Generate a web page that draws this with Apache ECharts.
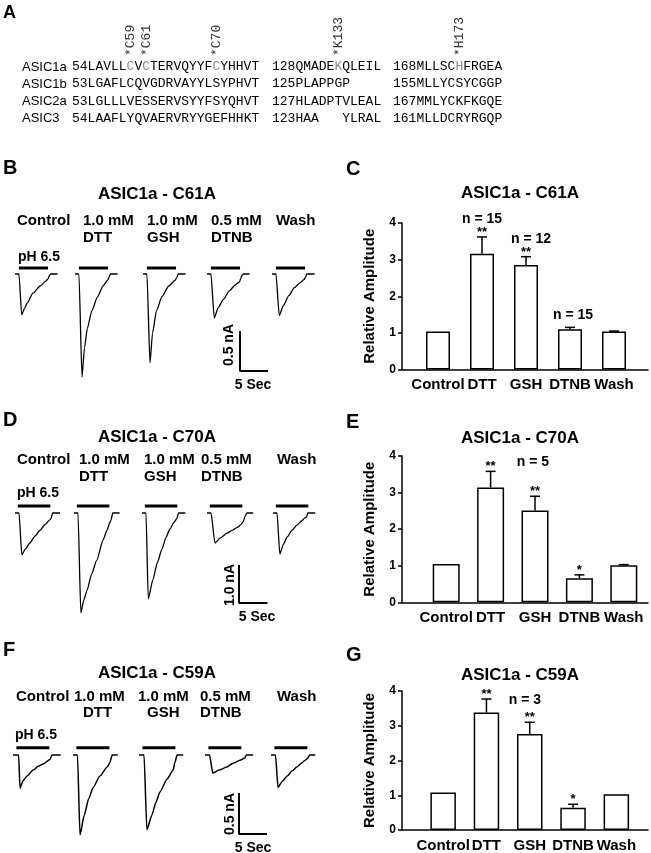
<!DOCTYPE html>
<html>
<head>
<meta charset="utf-8">
<script src="https://cdn.jsdelivr.net/npm/echarts@6/dist/echarts.min.js"></script>
<style>
html, body { margin: 0; padding: 0; background: #fff; }
#main { width: 651px; height: 853px; }
</style>
</head>
<body>
<div id="main"></div>
<script>
// ---- data ----
var conditions = ['Control', 'DTT', 'GSH', 'DTNB', 'Wash'];

// relative amplitude (mean, SEM, significance)
var ampC61A = [1.04, 3.16, 2.85, 1.10, 1.04];
var semC61A = [0, 0.46, 0.23, 0.05, 0.01];
var sigC61A = ['', '**', '**', '', ''];

var ampC70A = [1.05, 3.14, 2.51, 0.66, 1.01];
var semC70A = [0, 0.44, 0.39, 0.09, 0.02];
var sigC70A = ['', '**', '**', '*', ''];

var ampC59A = [1.08, 3.38, 2.76, 0.64, 1.03];
var semC59A = [0, 0.39, 0.34, 0.10, 0];
var sigC59A = ['', '**', '**', '*', ''];

// current traces, [time s, current nA], one per condition
var tracesC61A = [
  [[0,0],[0.7,0],[1.2,-0.51],[1.7,-0.43],[2.2,-0.36],[3.2,-0.24],[4.5,-0.15],[5.5,-0.09],[5.9,-0.06],[6.2,-0.01],[6.4,0],[7.6,0]],
  [[0,0],[0.7,0],[1.25,-1.29],[1.7,-0.92],[2.2,-0.68],[3.0,-0.46],[4.0,-0.29],[5.0,-0.15],[5.8,-0.08],[6.1,-0.04],[6.3,0],[7.6,0]],
  [[0,0],[0.7,0],[1.25,-1.11],[1.7,-0.74],[2.4,-0.46],[3.4,-0.28],[4.6,-0.15],[5.7,-0.08],[6.0,-0.05],[6.3,0],[7.6,0]],
  [[0,0],[0.7,0],[1.3,-0.55],[2.0,-0.42],[2.9,-0.32],[4.0,-0.21],[5.0,-0.14],[5.8,-0.10],[6.0,-0.06],[6.3,-0.01],[6.5,0],[7.6,0]],
  [[0,0],[0.7,0],[1.3,-0.52],[2.0,-0.40],[3.0,-0.27],[4.0,-0.17],[5.0,-0.11],[5.7,-0.07],[6.0,-0.04],[6.2,0],[7.6,0]]
];
var tracesC70A = [
  [[0,0],[0.7,0],[1.2,-1.10],[1.8,-0.95],[2.6,-0.79],[3.5,-0.61],[4.4,-0.45],[5.3,-0.30],[6.1,-0.18],[6.3,-0.15],[6.6,0],[7.9,0]],
  [[0,0],[0.7,0],[1.2,-2.63],[1.7,-2.30],[2.3,-2.03],[3.1,-1.60],[4.0,-1.24],[5.1,-0.71],[5.8,-0.45],[6.3,-0.25],[6.5,-0.18],[6.8,0],[8.0,0]],
  [[0,0],[0.7,0],[1.1,-2.26],[1.9,-1.76],[2.7,-1.30],[3.5,-0.95],[4.2,-0.65],[4.9,-0.42],[5.6,-0.25],[6.1,-0.15],[6.4,0],[7.6,0]],
  [[0,0],[0.7,0],[1.4,-0.79],[2.4,-0.65],[3.5,-0.53],[4.5,-0.45],[5.4,-0.37],[6.0,-0.30],[6.3,-0.24],[6.7,-0.08],[7.0,0],[8.1,0]],
  [[0,0],[0.7,0],[1.2,-1.08],[1.8,-0.83],[2.5,-0.63],[3.3,-0.46],[4.2,-0.32],[5.0,-0.21],[5.6,-0.13],[5.9,-0.10],[6.1,0],[7.4,0]]
];
var tracesC59A = [
  [[0,0],[1.0,0],[1.25,-0.44],[1.8,-0.34],[2.5,-0.28],[3.6,-0.20],[4.5,-0.15],[5.4,-0.12],[6.6,-0.06],[6.9,-0.01],[7.0,0],[8.5,0]],
  [[0,0],[0.8,0],[1.25,-1.06],[2.0,-0.80],[2.8,-0.58],[3.6,-0.43],[4.8,-0.28],[6.1,-0.16],[6.6,-0.10],[6.9,-0.02],[7.0,0],[8.0,0]],
  [[0,0],[0.9,0],[1.4,-0.99],[2.3,-0.80],[3.0,-0.63],[3.75,-0.49],[5.0,-0.32],[6.1,-0.20],[6.4,-0.10],[6.8,0],[7.9,0]],
  [[0,0],[0.8,0],[1.4,-0.24],[2.5,-0.20],[3.9,-0.16],[5.0,-0.11],[6.25,-0.07],[7.1,-0.04],[7.4,0],[8.6,0]],
  [[0,0],[0.8,0],[1.25,-0.43],[2.0,-0.35],[2.9,-0.28],[3.8,-0.21],[4.6,-0.16],[5.4,-0.11],[6.1,-0.07],[6.6,-0.04],[6.9,0],[7.9,0]]
];
// pH 6.5 application (s)
var stimC61A = [0.7, 5.9];
var stimC70A = [0.5, 6.2];
var stimC59A = [0.6, 6.5];
// scale bars
var scaleNA = [0.5, 1.0, 0.5];
var scaleSec = 5;

// sequence alignment
var seqNames = ['ASIC1a', 'ASIC1b', 'ASIC2a', 'ASIC3'];
var seqCol1 = ['54LAVLLCVCTERVQYYFCYHHVT', '53LGAFLCQVGDRVAYYLSYPHVT', '53LGLLLVESSERVSYYFSYQHVT', '54LAAFLYQVAERVRYYGEFHHKT'];
var seqCol2 = ['128QMADEKQLEIL', '125PLAPPGP', '127HLADPTVLEAL', '123HAA   YLRAL'];
var seqCol3 = ['168MLLSCHFRGEA', '155MLLYCSYCGGP', '167MMLYCKFKGQE', '161MLLDCRYRGQP'];
var markLabels = ['C59', 'C61', 'C70', 'K133', 'H173'];
var markCol = [0, 0, 0, 1, 2];
var markIdx = [7, 9, 18, 8, 8];

// ---- layout ----
var FONT = '"Liberation Sans", Arial, Helvetica, sans-serif';
var MONO = '"Liberation Mono", "Courier New", monospace';

var chart = echarts.init(document.getElementById('main'), null, {renderer: 'canvas', width: 651, height: 853});
var grids = [], xAxes = [], yAxes = [], series = [], graphics = [];

function addGrid(g, xa, ya) {
  var gi = grids.length;
  grids.push(g);
  xa.gridIndex = gi; ya.gridIndex = gi;
  xAxes.push(xa); yAxes.push(ya);
  return gi;
}

function txt(x, y, s, size, opt) {
  opt = opt || {};
  var al = opt.align || 'left', va = opt.valign || 'middle';
  return {
    type: 'text', x: x, y: y, rotation: opt.rot || 0, z: 100, silent: true,
    style: {
      text: s, font: (opt.weight || 'bold') + ' ' + size + 'px ' + (opt.family || FONT),
      fill: opt.color || '#000', textAlign: al, textVerticalAlign: va, align: al, verticalAlign: va
    }
  };
}

// panel A
graphics.push(txt(3, 13, 'A', 18));
var colStart = [72, 272, 393];
var cw = 7.8, rowY = [67, 84, 101.5, 118.5];
var cols = [seqCol1, seqCol2, seqCol3];
seqNames.forEach(function (nm, r) {
  graphics.push(txt(22, rowY[r], nm, 13, {weight: 'normal'}));
  cols.forEach(function (col, c) {
    var s = col[r];
    var marks = [];
    if (r === 0) markCol.forEach(function (mc, m) { if (mc === c) marks.push(markIdx[m]); });
    var pos = 0;
    marks.concat([s.length]).forEach(function (mi) {
      if (mi > pos) graphics.push(txt(colStart[c] + pos * cw, rowY[r], s.slice(pos, mi), 13, {weight: 'normal', family: MONO, color: '#000'}));
      if (mi < s.length) graphics.push(txt(colStart[c] + mi * cw, rowY[r], s[mi], 13, {weight: 'normal', family: MONO, color: '#8a8a8a'}));
      pos = mi + 1;
    });
  });
});
markLabels.forEach(function (lab, m) {
  var x = colStart[markCol[m]] + (markIdx[m] + 0.5) * cw;
  graphics.push(txt(x, 56, '*' + lab, 13, {weight: 'normal', family: MONO, color: '#333', rot: Math.PI / 2}));
});

// trace panels
var tracePanels = [
  {traces: tracesC61A, stim: stimC61A, sNA: scaleNA[0], letter: 'B', letterY: 168, title: 'ASIC1a - C61A', titleY: 194,
   starts: [15, 75, 143, 207, 272], base: 274, pxNA: 80, pxS: 5.6, yMin: -1.5, yMax: 0.3, stimGap: 6, corner: [240, 371], lw: 1.3,
   row1: 221, row2: 238, head: [['Control', 17], ['1.0 mM', 83], ['1.0 mM', 147], ['0.5 mM', 211], ['Wash', 276]],
   head2: [['DTT', 83], ['GSH', 147], ['DTNB', 211]], ph: [18, 257], nALab: [229, 345], secLab: [253, 385]},
  {traces: tracesC70A, stim: stimC70A, sNA: scaleNA[1], letter: 'D', letterY: 420, title: 'ASIC1a - C70A', titleY: 437,
   starts: [15, 74, 142, 207, 273], base: 513, pxNA: 38, pxS: 5.7, yMin: -3, yMax: 0.5, stimGap: 7, corner: [239, 603], lw: 1.3,
   row1: 460, row2: 477, head: [['Control', 17], ['1.0 mM', 79], ['1.0 mM', 144], ['0.5 mM', 201], ['Wash', 277]],
   head2: [['DTT', 79], ['GSH', 144], ['DTNB', 201]], ph: [17, 493], nALab: [230, 585], secLab: [257, 617]},
  {traces: tracesC59A, stim: stimC59A, sNA: scaleNA[2], letter: 'F', letterY: 650, title: 'ASIC1a - C59A', titleY: 673,
   starts: [13, 73, 139, 205, 271], base: 757, pxNA: 82, pxS: 5.6, yMin: -1.3, yMax: 0.3, stimGap: 8, corner: [239, 834], lw: 1.5,
   row1: 697, row2: 713, head: [['Control', 16], ['1.0 mM', 74], ['1.0 mM', 138], ['0.5 mM', 200], ['Wash', 277]],
   head2: [['DTT', 83], ['GSH', 147], ['DTNB', 200]], ph: [15, 735], nALab: [230, 814], secLab: [253, 848]}
];

tracePanels.forEach(function (p) {
  var tMax = 9;
  graphics.push(txt(3, p.letterY, p.letter, 20));
  graphics.push(txt(157, p.titleY, p.title, 17, {align: 'center'}));
  p.head.forEach(function (h) { graphics.push(txt(h[1], p.row1, h[0], 15)); });
  p.head2.forEach(function (h) { graphics.push(txt(h[1], p.row2, h[0], 15)); });
  graphics.push(txt(p.ph[0], p.ph[1], 'pH 6.5', 14));
  graphics.push(txt(p.nALab[0], p.nALab[1], p.sNA.toFixed(1) + ' nA', 14, {align: 'center', rot: Math.PI / 2}));
  graphics.push(txt(p.secLab[0], p.secLab[1], scaleSec + ' Sec', 14, {align: 'center'}));

  p.traces.forEach(function (tr, k) {
    var gi = addGrid(
      {left: p.starts[k], top: p.base - p.yMax * p.pxNA, width: tMax * p.pxS, height: (p.yMax - p.yMin) * p.pxNA},
      {type: 'value', min: 0, max: tMax, show: false},
      {type: 'value', min: p.yMin, max: p.yMax, show: false});
    series.push({type: 'line', xAxisIndex: gi, yAxisIndex: gi, data: tr, symbol: 'none', smooth: 0.2, smoothMonotone: 'x',
      lineStyle: {color: '#000', width: p.lw}, clip: false, silent: true});
    var lvl = p.stimGap / p.pxNA;
    series.push({type: 'line', xAxisIndex: gi, yAxisIndex: gi, data: [[p.stim[0], lvl], [p.stim[1], lvl]], symbol: 'none',
      lineStyle: {color: '#000', width: 3}, clip: false, silent: true});
  });
  var gs = addGrid(
    {left: p.corner[0], top: p.corner[1] - 1.2 * p.pxNA, width: 6 * p.pxS, height: 1.2 * p.pxNA},
    {type: 'value', min: 0, max: 6, show: false},
    {type: 'value', min: 0, max: 1.2, show: false});
  series.push({type: 'line', xAxisIndex: gs, yAxisIndex: gs, data: [[0, p.sNA], [0, 0], [scaleSec, 0]], symbol: 'none',
    lineStyle: {color: '#000', width: 2}, clip: false, silent: true});
});

// bar panels
var barPanels = [
  {amp: ampC61A, sem: semC61A, sig: sigC61A, letter: 'C', letterY: 169, title: 'ASIC1a - C61A', titleY: 193,
   top: 223, height: 146.5, barLeft: 416, band: 44, barW: 24,
   nLab: [['n = 15', 482, 219], ['n = 12', 531, 239], ['n = 15', 573, 315]]},
  {amp: ampC70A, sem: semC70A, sig: sigC70A, letter: 'E', letterY: 422, title: 'ASIC1a - C70A', titleY: 438,
   top: 456, height: 146.3, barLeft: 424, band: 44.4, barW: 27,
   nLab: [['n = 5', 533, 462]]},
  {amp: ampC59A, sem: semC59A, sig: sigC59A, letter: 'G', letterY: 655, title: 'ASIC1a - C59A', titleY: 675,
   top: 691, height: 139, barLeft: 421.5, band: 43.3, barW: 25.5,
   nLab: [['n = 3', 525, 700]]}
];

var axisLine = {show: true, onZero: false, lineStyle: {color: '#000', width: 1.5}};
barPanels.forEach(function (p) {
  graphics.push(txt(346, p.letterY, p.letter, 20));
  graphics.push(txt(520, p.titleY, p.title, 17, {align: 'center'}));
  p.nLab.forEach(function (n) { graphics.push(txt(n[1], n[2], n[0], 14, {align: 'center'})); });

  addGrid({left: 402, top: p.top, width: 246, height: p.height},
    {type: 'value', min: 0, max: 1, axisLine: axisLine, axisTick: {show: false}, axisLabel: {show: false}, splitLine: {show: false}},
    {type: 'value', min: 0, max: 4, interval: 1, axisLine: axisLine,
     axisTick: {show: true, length: 4, lineStyle: {color: '#000', width: 1.5}},
     axisLabel: {color: '#000', fontWeight: 'bold', fontSize: 12, fontFamily: FONT, margin: 6},
     splitLine: {show: false},
     name: 'Relative Amplitude', nameLocation: 'middle', nameGap: 25,
     nameTextStyle: {color: '#000', fontWeight: 'bold', fontSize: 15, fontFamily: FONT}});
  var bi = addGrid({left: p.barLeft, top: p.top, width: p.band * 5, height: p.height},
    {type: 'category', data: conditions, axisLine: {show: false}, axisTick: {show: false},
     axisLabel: {color: '#000', fontWeight: 'bold', fontSize: 15, fontFamily: FONT, margin: 8, interval: 0}},
    {type: 'value', min: 0, max: 4, show: false});
  series.push({type: 'bar', xAxisIndex: bi, yAxisIndex: bi, data: p.amp, barWidth: p.barW, z: 2, silent: true,
    itemStyle: {color: '#fff', borderColor: '#000', borderWidth: 1.5}});
  var sig = p.sig;
  series.push({type: 'custom', xAxisIndex: bi, yAxisIndex: bi, z: 3, silent: true,
    data: p.amp.map(function (v, j) { return [j, v, p.sem[j]]; }),
    renderItem: function (params, api) {
      var i = api.value(0), m = api.value(1), e = api.value(2);
      var top = api.coord([i, m]);
      var tip = api.coord([i, m + e]);
      var ch = [];
      if (e > 0) {
        ch.push({type: 'line', shape: {x1: top[0], y1: top[1], x2: tip[0], y2: tip[1]}, style: {stroke: '#000', lineWidth: 1.5}});
        ch.push({type: 'line', shape: {x1: tip[0] - 5, y1: tip[1], x2: tip[0] + 5, y2: tip[1]}, style: {stroke: '#000', lineWidth: 1.5}});
      }
      if (sig[i]) {
        ch.push({type: 'text', x: tip[0], y: tip[1] - 4.5,
          style: {text: sig[i], font: 'bold 13px ' + FONT, fill: '#000', textAlign: 'center', textVerticalAlign: 'middle', align: 'center', verticalAlign: 'middle'}});
      }
      return {type: 'group', children: ch};
    }});
});

chart.setOption({
  backgroundColor: '#fff',
  animation: false,
  grid: grids,
  xAxis: xAxes,
  yAxis: yAxes,
  series: series,
  graphic: graphics
});
</script>
</body>
</html>
